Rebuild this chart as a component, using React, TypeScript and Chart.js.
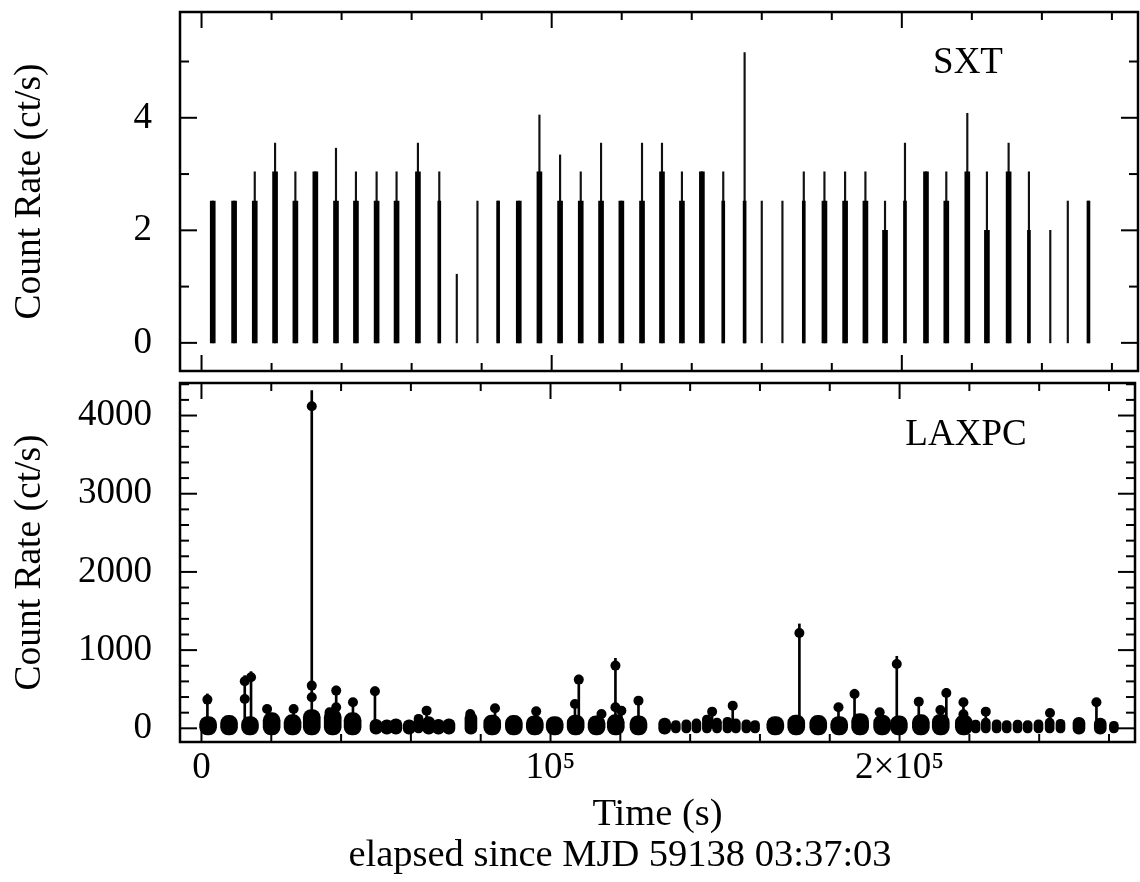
import { useEffect, useRef } from "react";
import { Chart, registerables } from "chart.js";

Chart.register(...registerables);

const FONT_FAMILY = "'Liberation Serif', 'Times New Roman', 'DejaVu Serif', serif";

// ---------- shared axis ----------
const xMin = -6150;
const xMax = 267450;
const xMajorTicks = [0, 100000, 200000];
const xMinorTicks = [20000, 40000, 60000, 80000, 120000, 140000, 160000, 180000, 220000, 240000, 260000];
const xTickLabels = ["0", "10\u2075", "2\u00d710\u2075"];
const xTitle = "Time (s)";
const xSubtitle = "elapsed since MJD 59138 03:37:03";
const yTitle = "Count Rate (ct/s)";

// ---------- SXT panel ----------
const sxtLabel = "SXT";
const sxtYMajor = [0, 2, 4];
const sxtYMinor = [1, 3, 5];
const sxtTime = [3200, 9300, 15200, 21000, 26800, 32500, 38400, 44100, 50000, 55700, 61800, 67900, 72900, 78800, 84700, 90600, 96500, 102400, 108300, 114100, 119900, 125800, 131500, 137200, 142900, 149000, 155100, 160000, 165900, 172000, 177900, 183800, 189600, 195200, 200900, 206900, 212700, 218700, 224300, 230500, 236300, 242400, 247400, 253300];
const sxtThick = [2.52, 2.52, 2.52, 3.04, 2.52, 3.04, 2.52, 2.52, 2.52, 2.52, 3.04, null, null, null, null, 2.52, 3.04, 2.52, 2.52, 2.52, 2.52, 2.52, 3.04, 2.52, 3.04, null, null, null, null, null, 2.52, 2.52, 2.52, 2.0, null, 3.04, 2.52, 3.04, 2.0, 3.04, null, null, null, null];
const sxtMid = [null, null, null, null, null, null, null, null, null, null, null, 2.52, null, null, 2.52, null, null, null, null, null, null, null, null, null, null, 2.52, 2.52, null, null, 2.52, null, null, null, null, 2.52, null, null, null, null, null, 2.0, null, null, 2.52];
const sxtPeak = [2.52, 2.52, 3.04, 3.55, 3.04, 3.04, 3.46, 3.04, 3.04, 3.04, 3.55, 3.04, 1.22, 2.52, 2.52, 2.52, 4.05, 3.34, 3.04, 3.55, 2.52, 3.55, 3.55, 3.04, 3.04, 3.04, 5.16, 2.52, 2.52, 3.04, 3.04, 3.04, 3.04, 2.52, 3.55, 3.04, 3.04, 4.08, 3.04, 3.55, 3.04, 2.0, 2.52, 2.52];

// ---------- LAXPC panel ----------
const lxLabel = "LAXPC";
const lxYMajor = [0, 1000, 2000, 3000, 4000];
const lxYMinor = [200, 400, 600, 800, 1200, 1400, 1600, 1800, 2200, 2400, 2600, 2800, 3200, 3400, 3600, 3800, 4200, 4400];

const lxWideTime = [1900, 7900, 13900, 20100, 26100, 31600, 37600, 43300, 83300, 89500, 95500, 101200, 107200, 113200, 118700, 125200, 164400, 170400, 176700, 182700, 188700, 195000, 199800, 206100, 211800, 218400];
const lxWideHigh = [150, 165, 150, 200, 175, 240, 240, 200, 170, 165, 160, 150, 170, 160, 175, 160, 150, 170, 165, 150, 190, 170, 160, 175, 180, 170];
const lxWideLow = [-85, -85, -85, -85, -85, -85, -85, -85, -85, -85, -85, -85, -85, -85, -85, -85, -85, -85, -85, -85, -85, -85, -85, -85, -85, -85];

const lxMidTime = [50000, 53100, 55700, 59500, 65100, 67900, 70900, 77200, 132700, 251400, 257500];
const lxMidHigh = [115, 110, 120, 110, 150, 115, 120, 200, 130, 140, 130];
const lxMidLow = [-75, -75, -75, -75, -75, -75, -75, -75, -75, -75, -75];

const lxNarrowTime = [62200, 135900, 138900, 141800, 144800, 147700, 150700, 153100, 156100, 158600, 221800, 224700, 227800, 230700, 233800, 236700, 239800, 243000, 246100, 261400];
const lxNarrowHigh = [180, 100, 110, 120, 170, 130, 140, 120, 110, 100, 105, 130, 110, 100, 105, 100, 110, 130, 115, 90];
const lxNarrowLow = [-60, -60, -60, -60, -60, -60, -60, -60, -60, -60, -60, -60, -60, -60, -60, -60, -60, -60, -60, -60];

const lxSpikeTime = [1700, 12400, 14200, 18800, 26400, 31600, 36700, 38600, 43400, 49700, 64500, 77000, 84100, 95900, 107000, 108100, 114600, 118600, 120300, 125200, 146300, 152200, 171300, 182500, 187100, 194300, 199200, 205500, 211700, 213400, 218300, 224700, 243100, 256400];
const lxSpikeRate = [367, 601, 652, 247, 247, 4119, 205, 482, 333, 473, 226, 183, 256, 217, 311, 623, 183, 802, 226, 354, 213, 290, 1220, 270, 439, 205, 823, 341, 235, 452, 333, 213, 196, 333];
const lxSpikeTop = [440, 674, 725, 290, 290, 4320, 240, 540, 380, 530, 260, 215, 300, 250, 350, 680, 215, 895, 260, 400, 250, 330, 1335, 310, 500, 240, 921, 380, 270, 510, 370, 250, 230, 380];
const lxExtraTime = [12400, 31600, 31600, 38600, 118600, 218300];
const lxExtraRate = [375, 546, 397, 269, 269, 179];

// ---------- helpers ----------
const font = (size: number, lineHeight = 1.2) => ({ family: FONT_FAMILY, size, lineHeight, weight: "normal" as const });

function floating(times: number[], lows: (number | null)[] | number, highs: (number | null)[]) {
  const out: { x: number; y: [number, number] }[] = [];
  times.forEach((t, i) => {
    const h = highs[i];
    if (h === null || h === undefined) return;
    const l = Array.isArray(lows) ? lows[i] : lows;
    out.push({ x: t, y: [l as number, h] });
  });
  return out;
}

const framePlugin = {
  id: "frame",
  afterDatasetsDraw(chart: any, _args: any, opts: any) {
    const { ctx, chartArea: a } = chart;
    const xs = chart.scales.x;
    const ys = chart.scales.y;
    ctx.save();
    ctx.strokeStyle = "#000";
    ctx.lineWidth = 2.5;
    ctx.strokeRect(a.left, a.top, a.right - a.left, a.bottom - a.top);
    ctx.lineWidth = 2;
    const seg = (x1: number, y1: number, x2: number, y2: number) => {
      ctx.beginPath();
      ctx.moveTo(x1, y1);
      ctx.lineTo(x2, y2);
      ctx.stroke();
    };
    const xTick = (v: number, len: number) => {
      const p = xs.getPixelForValue(v);
      seg(p, a.top, p, a.top + len);
      seg(p, a.bottom, p, a.bottom - len);
    };
    const yTick = (v: number, len: number) => {
      const p = ys.getPixelForValue(v);
      seg(a.left, p, a.left + len, p);
      seg(a.right, p, a.right - len, p);
    };
    (opts.xMajor || []).forEach((v: number) => xTick(v, 16));
    (opts.xMinor || []).forEach((v: number) => xTick(v, 8));
    (opts.yMajor || []).forEach((v: number) => yTick(v, 17));
    (opts.yMinor || []).forEach((v: number) => yTick(v, 9));
    ctx.fillStyle = "#000";
    if (opts.label) {
      ctx.font = `37px ${FONT_FAMILY}`;
      ctx.textAlign = "center";
      ctx.textBaseline = "alphabetic";
      ctx.fillText(opts.label, opts.labelX, opts.labelY);
    }
    if (opts.subtitle) {
      ctx.font = `38.5px ${FONT_FAMILY}`;
      ctx.textAlign = "center";
      ctx.textBaseline = "middle";
      ctx.fillText(opts.subtitle, opts.subtitleX, opts.subtitleY);
    }
    ctx.restore();
  },
};

function yAxis(min: number, max: number, ticks: number[]) {
  return {
    type: "linear" as const,
    min,
    max,
    afterBuildTicks: (s: any) => {
      s.ticks = ticks.map((v) => ({ value: v }));
    },
    afterFit: (s: any) => {
      s.width = 180;
      s.paddingTop = 0;
      s.paddingBottom = 0;
    },
    ticks: { font: font(37), color: "#000", padding: 28, callback: (v: any) => String(v) },
    grid: { display: false, drawTicks: false },
    border: { display: false },
    title: { display: true, text: yTitle, font: font(37.5), color: "#000", padding: { top: 8, bottom: 0 } },
  };
}

export default function App() {
  const topRef = useRef<HTMLCanvasElement>(null);
  const botRef = useRef<HTMLCanvasElement>(null);

  useEffect(() => {
    const top = new Chart(topRef.current!, {
      type: "bar",
      data: {
        datasets: [
          { data: floating(sxtTime, 0, sxtThick), backgroundColor: "#000", barThickness: 5, grouped: false } as any,
          { data: floating(sxtTime, 0, sxtMid), backgroundColor: "#000", barThickness: 3, grouped: false } as any,
          { data: floating(sxtTime, 0, sxtPeak), backgroundColor: "#111", barThickness: 1.5, grouped: false } as any,
        ],
      },
      options: {
        animation: false,
        responsive: false,
        layout: { padding: { top: 12, bottom: 6, right: 2, left: 0 } },
        scales: {
          x: {
            type: "linear", min: xMin, max: xMax, offset: false, display: false,
            afterFit: (s: any) => { s.paddingLeft = 0; s.paddingRight = 0; },
          } as any,
          y: yAxis(-0.5, 5.88, sxtYMajor) as any,
        },
        plugins: {
          legend: { display: false },
          tooltip: { enabled: false },
          frame: { xMajor: xMajorTicks, xMinor: xMinorTicks, yMajor: sxtYMajor, yMinor: sxtYMinor, label: sxtLabel, labelX: 968, labelY: 73 },
        } as any,
      },
      plugins: [framePlugin],
    });

    const markers = [
      ...lxSpikeTime.map((t, i) => ({ x: t, y: lxSpikeRate[i] })),
      ...lxExtraTime.map((t, i) => ({ x: t, y: lxExtraRate[i] })),
    ];

    const bot = new Chart(botRef.current!, {
      type: "bar",
      data: {
        datasets: [
          { data: floating(lxWideTime, lxWideLow, lxWideHigh), backgroundColor: "#000", barThickness: 17, borderRadius: 8, borderSkipped: false, grouped: false } as any,
          { data: floating(lxMidTime, lxMidLow, lxMidHigh), backgroundColor: "#000", barThickness: 12, borderRadius: 6, borderSkipped: false, grouped: false } as any,
          { data: floating(lxNarrowTime, lxNarrowLow, lxNarrowHigh), backgroundColor: "#000", barThickness: 9, borderRadius: 4.5, borderSkipped: false, grouped: false } as any,
          { data: floating(lxSpikeTime, 0, lxSpikeTop), backgroundColor: "#000", barThickness: 2, grouped: false } as any,
          { type: "scatter", data: markers, pointRadius: 5, pointStyle: "circle", backgroundColor: "#000", borderWidth: 0 } as any,
        ],
      },
      options: {
        animation: false,
        responsive: false,
        layout: { padding: { top: 6, bottom: 0, right: 2, left: 0 } },
        scales: {
          x: {
            type: "linear",
            min: xMin,
            max: xMax,
            offset: false,
            position: "bottom",
            afterBuildTicks: (s: any) => {
              s.ticks = xMajorTicks.map((v) => ({ value: v }));
            },
            afterFit: (s: any) => {
              s.height = 140;
              s.paddingLeft = 0;
              s.paddingRight = 0;
            },
            ticks: {
              font: font(37),
              color: "#000",
              padding: 4,
              maxRotation: 0,
              autoSkip: false,
              callback: (_v: any, i: number) => xTickLabels[i],
            },
            grid: { display: false, drawTicks: false },
            border: { display: false },
            title: { display: true, text: xTitle, font: font(38.5), color: "#000", padding: { top: 0, bottom: 44 } },
          } as any,
          y: yAxis(-175, 4416, lxYMajor) as any,
        },
        plugins: {
          legend: { display: false },
          tooltip: { enabled: false },
          frame: {
            xMajor: xMajorTicks, xMinor: xMinorTicks, yMajor: lxYMajor, yMinor: lxYMinor,
            label: lxLabel, labelX: 966, labelY: 68,
            subtitle: xSubtitle, subtitleX: 620, subtitleY: 479,
          },
        } as any,
      },
      plugins: [framePlugin],
    });

    return () => {
      top.destroy();
      bot.destroy();
    };
  }, []);

  return (
    <div style={{ position: "absolute", left: 0, top: 0, width: 1140, height: 882, background: "#fff" }}>
      <canvas ref={topRef} width={1140} height={377} style={{ position: "absolute", left: 0, top: 0 }} />
      <canvas ref={botRef} width={1140} height={505} style={{ position: "absolute", left: 0, top: 377 }} />
    </div>
  );
}
